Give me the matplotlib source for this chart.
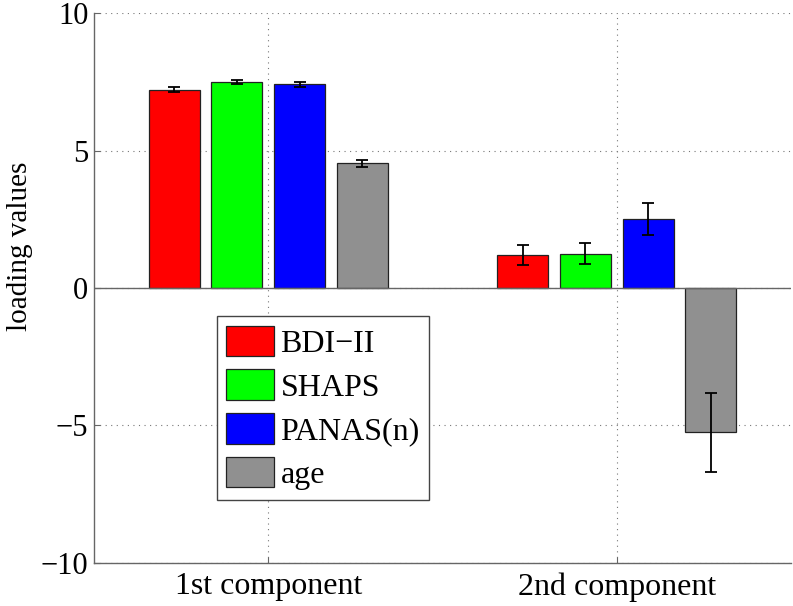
import matplotlib
matplotlib.use("Agg")
import matplotlib.pyplot as plt
import numpy as np

plt.rcParams['font.family'] = ['Liberation Serif', 'DejaVu Serif']
plt.rcParams['font.size'] = 15

components = ["1st component", "2nd component"]
measures = ["BDI\u2212II", "SHAPS", "PANAS(n)", "age"]
colors = ["#ff0000", "#00ff00", "#0000ff", "#909090"]

# loadings per measure: (1st, 2nd)
loadings = {
    "BDI\u2212II": [7.22, 1.20],
    "SHAPS": [7.50, 1.24],
    "PANAS(n)": [7.41, 2.52],
    "age": [4.54, -5.26],
}
errors = {
    "BDI\u2212II": [0.09, 0.36],
    "SHAPS": [0.08, 0.38],
    "PANAS(n)": [0.08, 0.59],
    "age": [0.13, 1.44],
}

fig = plt.figure(figsize=(7.93, 6.06), dpi=100)
ax = fig.add_axes([94/793, 1 - 562.7/606, 697/793, 549.4/606])

x = np.arange(1, len(components) + 1)
offsets = [-0.27, -0.09, 0.09, 0.27]
width = 0.146

for i, m in enumerate(measures):
    ax.bar(x + offsets[i], loadings[m], width, color=colors[i],
           edgecolor="#222222", linewidth=0.9, label=m, zorder=2)
    ax.errorbar(x + offsets[i], loadings[m], yerr=errors[m], fmt='none',
                ecolor='black', elinewidth=1.3, capsize=4, capthick=1.3, zorder=3)

ax.axhline(0, color="#666666", linewidth=1.0, zorder=2.5)

ax.set_xlim(0.5, 2.5)
ax.set_ylim(-10, 10)
ax.set_yticks([-10, -5, 0, 5, 10])
ax.set_yticklabels(["\u221210", "\u22125", "0", "5", "10"], fontsize=22)
ax.set_xticks(x)
ax.set_xticklabels(components, fontsize=23)
ax.set_ylabel("loading values", fontsize=21)
ax.yaxis.set_label_coords(-0.087, 0.575)

ax.grid(True, linestyle=(0, (1, 4)), color="#777777", linewidth=0.8, zorder=0)
ax.set_axisbelow(True)
for s in ["top", "right"]:
    ax.spines[s].set_visible(False)
for s in ["left", "bottom"]:
    ax.spines[s].set_color("#666666")
    ax.spines[s].set_linewidth(1.0)
ax.tick_params(direction='in', length=4, color="#666666")
ax.tick_params(axis='x', pad=7)
ax.tick_params(axis='y', pad=4)

leg = ax.legend(loc='upper left', bbox_to_anchor=(0.176, 0.449), borderaxespad=0,
                fontsize=23, handlelength=1.5, handleheight=1.1, labelspacing=0.33,
                handletextpad=0.2, borderpad=0.3, fancybox=False, framealpha=1)
leg.get_frame().set_edgecolor("#444444")
leg.get_frame().set_linewidth(1.0)

fig.savefig("out.png", dpi=100)
